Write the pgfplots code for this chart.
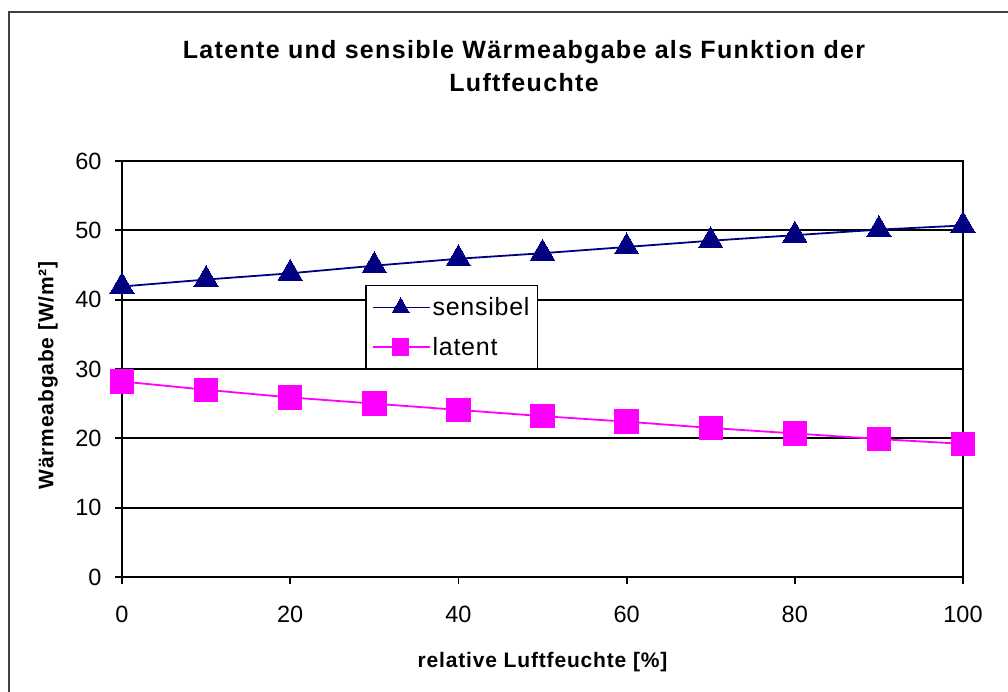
\documentclass[border=0pt]{standalone}
\usepackage{pgfplots}
\pgfplotsset{compat=1.18}
\usepackage{fontspec}
\setmainfont{Liberation Sans}
\definecolor{sensnavy}{RGB}{0,0,128}
\definecolor{latmag}{RGB}{255,0,255}
\begin{document}
\begin{tikzpicture}[x=1pt,y=1pt]
\path[use as bounding box] (0,0) rectangle (1008,692);
\draw[black!75, line width=2pt] (9,-20) -- (9,680) -- (1030,680);
\node[align=center, font=\bfseries\fontsize{25}{33}\selectfont\addfontfeatures{LetterSpace=5.3}] at (524,626) {Latente und sensible Wärmeabgabe als Funktion der\\Luftfeuchte};
\begin{axis}[
  at={(122pt,115pt)}, anchor=south west,
  scale only axis, width=841pt, height=416pt,
  xmin=0, xmax=100, ymin=0, ymax=60,
  xtick={0,20,...,100}, ytick={0,10,...,60},
  xtick pos=bottom, ytick pos=left,
  minor tick num=0,
  tick align=outside, major tick length=7pt,
  tick style={black, line width=1.8pt},
  axis line style={black, line width=2.2pt},
  ymajorgrids, grid style={black, line width=2pt},
  /pgf/number format/assume math mode=true,
  ticklabel style={font=\fontsize{23.5}{24}\selectfont},
  xticklabel style={yshift=-19pt},
  yticklabel style={xshift=-10pt},
  xlabel={relative Luftfeuchte [\%]},
  ylabel={Wärmeabgabe [W/m²]},
  label style={font=\bfseries\fontsize{21}{24}\selectfont\addfontfeatures{LetterSpace=4}},
  xlabel style={at={(rel axis cs:0.5,-0.204)}, anchor=center},
  ylabel style={at={(rel axis cs:-0.088,0.485)}, anchor=center, rotate=0},
  clip=false,
  legend style={at={(rel axis cs:0.289,0.702)}, anchor=north west,
    draw=black, line width=1.5pt, fill=white,
    font=\fontsize{25}{25}\selectfont\addfontfeatures{LetterSpace=3},
    inner xsep=6pt, inner ysep=10pt, row sep=16pt},
  legend cell align=left,
  legend image code/.code={\draw[mark repeat=2,mark phase=2,#1,every mark/.append style={scale=0.7}] plot coordinates {(0pt,0pt) (28pt,0pt) (57pt,0pt)};},
]
\addplot[sensnavy, line width=1.8pt, mark=triangle*, mark size=14pt, mark options={fill=sensnavy, draw=sensnavy, line width=0pt}]
  coordinates {(0,41.9) (10,42.9) (20,43.8) (30,44.9) (40,45.9) (50,46.7) (60,47.6) (70,48.5) (80,49.3) (90,50.1) (100,50.7)};
\addlegendentry{sensibel}
\addplot[latmag, line width=1.8pt, mark=square*, mark size=11.7pt, mark options={fill=latmag, draw=latmag, line width=0pt}]
  coordinates {(0,28.2) (10,27.0) (20,25.9) (30,25.0) (40,24.1) (50,23.2) (60,22.4) (70,21.5) (80,20.7) (90,19.9) (100,19.2)};
\addlegendentry{latent}
\end{axis}
\end{tikzpicture}
\end{document}
